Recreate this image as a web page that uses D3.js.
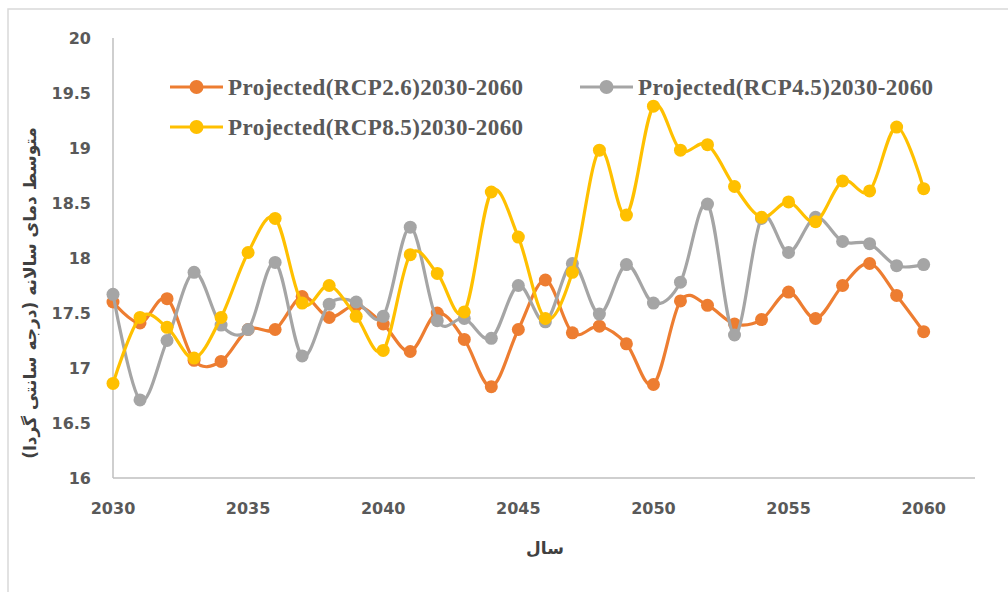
<!DOCTYPE html>
<html>
<head>
<meta charset="utf-8">
<script src="https://cdn.jsdelivr.net/npm/d3@7"></script>
<style>
  body { margin: 0; background: #fff; }
  svg { display: block; }
  .tick-label { font-family: "DejaVu Sans", sans-serif; font-weight: bold; font-size: 16px; fill: #595959; }
  .legend-text { font-family: "Liberation Serif", serif; font-weight: bold; font-size: 23px; letter-spacing: 0.4px; fill: #595959; }
  .axis-title { font-family: "DejaVu Sans", sans-serif; font-weight: bold; font-size: 17px; fill: #404040; }
</style>
</head>
<body>
<div id="chart"></div>
<script>
// data
var years = d3.range(2030, 2061);
var rcp26 = [17.60, 17.41, 17.63, 17.07, 17.06, 17.35, 17.35, 17.65, 17.46, 17.57, 17.40,
             17.15, 17.50, 17.26, 16.83, 17.35, 17.80, 17.32, 17.38, 17.22, 16.85,
             17.61, 17.57, 17.40, 17.44, 17.69, 17.45, 17.75, 17.95, 17.66, 17.33];
var rcp45 = [17.67, 16.71, 17.25, 17.87, 17.39, 17.35, 17.96, 17.11, 17.58, 17.60, 17.47,
             18.28, 17.43, 17.45, 17.27, 17.75, 17.42, 17.95, 17.49, 17.94, 17.59,
             17.78, 18.49, 17.30, 18.36, 18.05, 18.37, 18.15, 18.13, 17.93, 17.94];
var rcp85 = [16.86, 17.46, 17.37, 17.09, 17.46, 18.05, 18.36, 17.59, 17.75, 17.47, 17.16,
             18.03, 17.86, 17.51, 18.60, 18.19, 17.45, 17.87, 18.98, 18.39, 19.38,
             18.98, 19.03, 18.65, 18.37, 18.51, 18.33, 18.70, 18.61, 19.19, 18.63];
var xTicks = [2030, 2035, 2040, 2045, 2050, 2055, 2060];
var yTicks = [16, 16.5, 17, 17.5, 18, 18.5, 19, 19.5, 20];
var seriesNames = ["Projected(RCP2.6)2030-2060", "Projected(RCP4.5)2030-2060", "Projected(RCP8.5)2030-2060"];
var seriesColors = ["#ED7D31", "#A5A5A5", "#FFC000"];

var W = 1008, H = 592;
var svg = d3.select("#chart").append("svg")
    .attr("width", W)
    .attr("height", H);

// chart frame (only top and left edges visible in reference)
svg.append("rect")
    .attr("x", 8).attr("y", 9)
    .attr("width", W + 20).attr("height", H + 20)
    .attr("fill", "none")
    .attr("stroke", "#D9D9D9")
    .attr("stroke-width", 1.5);

var x = d3.scaleLinear().domain([2030, 2061.9]).range([113, 975]);
var y = d3.scaleLinear().domain([16, 20]).range([478, 38]);

// axes lines
svg.append("line")
    .attr("x1", x(2030)).attr("x2", x(2030))
    .attr("y1", y(20)).attr("y2", y(16))
    .attr("stroke", "#BFBFBF").attr("stroke-width", 1.5);
svg.append("line")
    .attr("x1", x(2030)).attr("x2", x(2061.9))
    .attr("y1", y(16)).attr("y2", y(16))
    .attr("stroke", "#BFBFBF").attr("stroke-width", 1.5);

// y tick labels
svg.selectAll(".ylab")
    .data(yTicks)
    .enter().append("text")
    .attr("class", "tick-label")
    .attr("x", 91)
    .attr("y", function(d) { return y(d); })
    .attr("dy", "0.35em")
    .attr("text-anchor", "end")
    .text(function(d) { return d; });

// x tick labels
svg.selectAll(".xlab")
    .data(xTicks)
    .enter().append("text")
    .attr("class", "tick-label")
    .attr("x", function(d) { return x(d); })
    .attr("y", 508)
    .attr("dy", "0.35em")
    .attr("text-anchor", "middle")
    .text(function(d) { return d; });

// axis titles
svg.append("text")
    .attr("class", "axis-title")
    .attr("x", 545).attr("y", 548)
    .attr("dy", "0.35em")
    .attr("text-anchor", "middle")
    .attr("direction", "rtl")
    .text("سال");

svg.append("text")
    .attr("class", "axis-title")
    .attr("transform", "translate(30,293) rotate(-90)")
    .attr("dy", "0.35em")
    .attr("text-anchor", "middle")
    .attr("direction", "rtl")
    .text("متوسط دمای سالانه (درجه سانتی گردا)");

var line = d3.line()
    .x(function(d, i) { return x(years[i]); })
    .y(function(d) { return y(d); })
    .curve(d3.curveCardinal.tension(0));

var allSeries = [rcp26, rcp45, rcp85];

// draw series: RCP2.6 first, then RCP4.5, then RCP8.5 on top
allSeries.forEach(function(vals, k) {
    var g = svg.append("g");
    g.append("path")
        .datum(vals)
        .attr("d", line)
        .attr("fill", "none")
        .attr("stroke", seriesColors[k])
        .attr("stroke-width", 3.2);
    g.selectAll("circle")
        .data(vals)
        .enter().append("circle")
        .attr("cx", function(d, i) { return x(years[i]); })
        .attr("cy", function(d) { return y(d); })
        .attr("r", 6.5)
        .attr("fill", seriesColors[k]);
});

// legend
var legendPos = [[170, 87], [580, 87], [170, 127]];
seriesNames.forEach(function(name, k) {
    var lx = legendPos[k][0], ly = legendPos[k][1];
    svg.append("line")
        .attr("x1", lx).attr("x2", lx + 53)
        .attr("y1", ly).attr("y2", ly)
        .attr("stroke", seriesColors[k])
        .attr("stroke-width", 3.2);
    svg.append("circle")
        .attr("cx", lx + 26.5).attr("cy", ly)
        .attr("r", 7)
        .attr("fill", seriesColors[k]);
    svg.append("text")
        .attr("class", "legend-text")
        .attr("x", lx + 58).attr("y", ly)
        .attr("dy", "0.35em")
        .text(name);
});
</script>
</body>
</html>
